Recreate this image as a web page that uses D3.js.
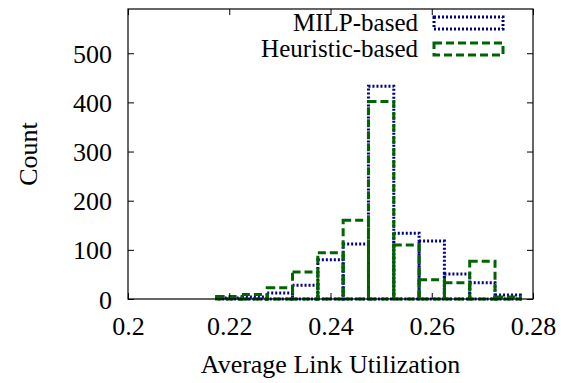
<!DOCTYPE html>
<html>
<head>
<meta charset="utf-8">
<script src="https://cdn.jsdelivr.net/npm/d3@7"></script>
<style>
body { margin: 0; background: #fff; }
svg text { font-family: "Liberation Serif", "Times New Roman", serif; fill: #000; }
</style>
</head>
<body>
<svg id="chart" width="561" height="383"></svg>
<script>
// bin centres (bin width 0.005) and counts
const binCenters = [0.22, 0.225, 0.23, 0.235, 0.24, 0.245, 0.25, 0.255, 0.26, 0.265, 0.27, 0.275];
const milpCounts = [2, 4, 12, 28, 80, 112, 433, 134, 118, 51, 33, 8];
const heurCounts = [5, 9, 23, 55, 94, 160, 402, 110, 39, 33, 77, 4];
const binWidth = 0.005;
const xTicks = [0.2, 0.22, 0.24, 0.26, 0.28];
const yTicks = [0, 100, 200, 300, 400, 500];

const series = [
	{ name: "MILP-based", values: milpCounts, color: "#00008b", dash: "2,2" },
	{ name: "Heuristic-based", values: heurCounts, color: "#006400", dash: "8,4" }
];

const svg = d3.select("#chart");
const margin = { left: 128, right: 28, top: 9, bottom: 84 };
const width = 561 - margin.left - margin.right;
const height = 383 - margin.top - margin.bottom;

const x = d3.scaleLinear().domain([0.2, 0.28]).range([0, width]);
const y = d3.scaleLinear().domain([0, 590]).range([height, 0]);

const g = svg.append("g").attr("transform", "translate(" + margin.left + "," + margin.top + ")");

// boxes, MILP first so the dashed green lies on top
series.forEach(function (s) {
	g.append("g").selectAll("rect")
		.data(binCenters.map(function (c, i) { return { c: c, v: s.values[i] }; }))
		.join("rect")
		.attr("x", d => x(d.c - binWidth / 2))
		.attr("width", d => x(d.c + binWidth / 2) - x(d.c - binWidth / 2))
		.attr("y", d => y(d.v))
		.attr("height", d => y(0) - y(d.v))
		.attr("fill", "none")
		.attr("stroke", s.color)
		.attr("stroke-width", 3)
		.attr("stroke-dasharray", s.dash);
});

// axes with inward ticks, mirrored on top/right
const fontSize = 26;
const xAxis = d3.axisBottom(x).tickValues(xTicks).tickSize(-6).tickPadding(15).tickFormat(d3.format("~g"));
const yAxis = d3.axisLeft(y).tickValues(yTicks).tickSize(-6).tickPadding(16);

const gx = g.append("g").attr("transform", "translate(0," + height + ")").call(xAxis);
const gy = g.append("g").call(yAxis);
g.append("g").call(d3.axisTop(x).tickValues(xTicks).tickSize(-6).tickFormat(""));
g.append("g").attr("transform", "translate(" + width + ",0)")
	.call(d3.axisRight(y).tickValues(yTicks).tickSize(-6).tickFormat(""));

g.selectAll(".domain").remove();
g.selectAll(".tick line").attr("stroke", "#000");
gx.selectAll("text").attr("font-size", fontSize).attr("dy", "0.8em");
gy.selectAll("text").attr("font-size", fontSize).attr("dy", "0.35em");

g.append("rect")
	.attr("width", width)
	.attr("height", height)
	.attr("fill", "none")
	.attr("stroke", "#000")
	.attr("stroke-width", 1.2);

// axis titles
svg.append("text")
	.attr("x", margin.left + width / 2)
	.attr("y", 373)
	.attr("text-anchor", "middle")
	.attr("font-size", fontSize)
	.text("Average Link Utilization");

svg.append("text")
	.attr("transform", "translate(37," + (margin.top + height / 2) + ") rotate(-90)")
	.attr("text-anchor", "middle")
	.attr("font-size", fontSize)
	.text("Count");

// legend
const legend = svg.append("g").selectAll("g")
	.data(series)
	.join("g")
	.attr("transform", (d, i) => "translate(0," + (23 + i * 26) + ")");

legend.append("text")
	.attr("x", 418)
	.attr("y", 0)
	.attr("dy", "0.33em")
	.attr("text-anchor", "end")
	.attr("font-size", 25)
	.text(d => d.name);

legend.append("rect")
	.attr("x", 434)
	.attr("y", -6)
	.attr("width", 69)
	.attr("height", 12)
	.attr("fill", "none")
	.attr("stroke", d => d.color)
	.attr("stroke-width", 3)
	.attr("stroke-dasharray", d => d.dash);
</script>
</body>
</html>
